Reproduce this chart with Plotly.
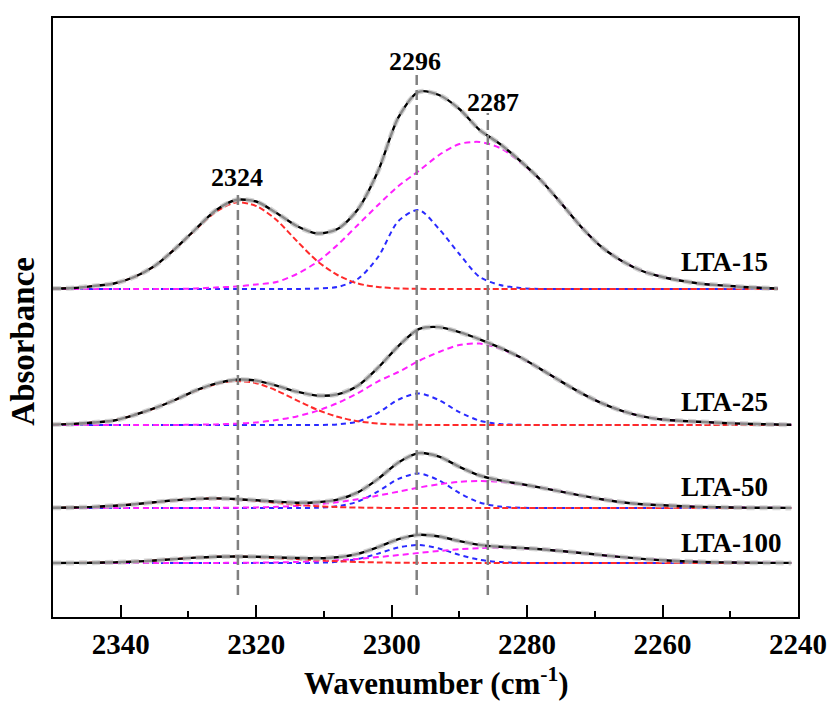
import plotly.graph_objects as go

# ---------------- data ----------------
WAVENUMBER = [2350, 2347, 2344, 2341, 2338, 2335, 2332, 2329, 2326, 2323, 2320, 2317, 2314,
              2311, 2308, 2305, 2302, 2299, 2296, 2293, 2290, 2287, 2284, 2281, 2278, 2275,
              2272, 2269, 2266, 2263, 2260, 2257, 2254, 2251, 2248, 2245, 2242]

SAMPLES = ["LTA-15", "LTA-25", "LTA-50", "LTA-100"]
SPECTRUM_END = [2243, 2241, 2241, 2241]          # last recorded wavenumber of each spectrum
OFFSETS = [328, 192, 109, 54]                    # vertical stacking offsets (a.u.)

# fitted components (a.u., above each spectrum's baseline)
RED_2324 = [
    [0.5, 1, 3, 5.5, 12, 23, 40, 59, 77, 86.5, 83, 69, 48, 28, 14, 5.5, 2, 0.6, 0.2] + [0] * 18,
    [0.4, 1.1, 2.5, 4.5, 10, 16.8, 25, 34, 40.8, 44, 41.8, 34.5, 24.7, 15.3, 8.2, 3.8, 1.5, 0.5, 0.2] + [0] * 18,
    [0.2, 0.5, 1.1, 2.2, 3.8, 5.8, 7.7, 9.1, 9.5, 8.7, 7.1, 5.1, 3.2, 1.8, 0.9, 0.4, 0.15, 0.05] + [0] * 19,
    [0.03, 0.1, 0.28, 0.67, 1.4, 2.5, 3.9, 5.3, 6.2, 6.4, 5.9, 5, 3.9, 2.75, 1.8, 1.05, 0.57, 0.28, 0.13, 0.05, 0.02] + [0] * 16,
]
BLUE_2296 = [
    [0] * 13 + [0.5, 2, 10, 32, 68, 79, 60, 35, 12, 4, 1] + [0] * 13,
    [0] * 14 + [0.6, 3.5, 12.2, 25.4, 31.6, 24.9, 12.8, 4.3, 0.9, 0.2] + [0] * 13,
    [0] * 13 + [0.3, 1.7, 6.4, 16.6, 29.1, 34.5, 27.6, 15, 5.5, 1.4, 0.3] + [0] * 13,
    [0] * 13 + [0.2, 1.2, 4, 9.4, 15.6, 18, 14.5, 8.1, 3.2, 0.9, 0.2] + [0] * 13,
]
MAGENTA_2287 = [
    [0] * 7 + [0.5, 1.5, 2.5, 4.5, 7, 15, 27, 44, 64, 84, 103, 118, 134, 145, 147, 141, 127, 109,
               86, 62, 42, 28, 18, 12, 8, 5, 3.5, 2, 1, 0.5],
    [0] * 7 + [0.3, 0.6, 1.3, 2.6, 4.9, 8.6, 14.1, 21.9, 31.9, 43.6, 53, 64, 73, 80, 81.4, 76.4,
               67.5, 55.9, 43.6, 31.9, 21.9, 14.1, 8.6, 5.5, 4, 3, 2, 1.3, 0.7, 0.3],
    [0] * 8 + [0.15, 0.3, 0.6, 1.2, 2.1, 3.7, 5.8, 8.8, 12.4, 16.4, 20.4, 23.8, 26.2, 27, 26.2,
               23.8, 20.4, 16.4, 12.4, 8.8, 5.8, 3.7, 2.8, 1.8, 1.1, 0.7, 0.4, 0.2, 0.1],
    [0] * 7 + [0.04, 0.1, 0.17, 0.33, 0.6, 1.07, 1.8, 2.8, 4.1, 5.9, 7.9, 10, 12, 13.8, 14.9, 15.3,
               14.9, 13.8, 12, 10, 7.9, 5.9, 4.1, 2.8, 1.8, 1.07, 0.6, 0.33, 0.17, 0.1],
]

PEAK_POSITIONS = [2322.7, 2296.3, 2285.8]
PEAK_LABELS = ["2324", "2296", "2287"]
X_TICKS = [2340, 2320, 2300, 2280, 2260, 2240]

# ---------------- figure ----------------
FONT = "Liberation Serif"
fig = go.Figure()

# drawing order bottom -> top: blue, magenta, red
comp_styles = [("#2a2aff", BLUE_2296, "5px,4px"), ("#ff20ff", MAGENTA_2287, "6px,4px"),
               ("#ff2a2a", RED_2324, "6px,3px")]

for i, name in enumerate(SAMPLES):
    x = WAVENUMBER[:-1] + [SPECTRUM_END[i]]
    off = OFFSETS[i]
    for color, comp, dash in comp_styles:
        fig.add_trace(go.Scatter(
            x=x, y=[off + v for v in comp[i]], mode="lines",
            line=dict(color=color, width=2, dash=dash, shape="spline", smoothing=0.8),
            hoverinfo="skip", showlegend=False))
    total = [off + r + b + m for r, b, m in zip(RED_2324[i], BLUE_2296[i], MAGENTA_2287[i])]
    # measured spectrum
    fig.add_trace(go.Scatter(
        x=x, y=total, mode="lines", name=name,
        line=dict(color="black", width=2.4, shape="spline", smoothing=0.8),
        showlegend=False))
    # cumulative fit
    fig.add_trace(go.Scatter(
        x=x, y=total, mode="lines",
        line=dict(color="rgba(195,195,195,0.7)", width=5, dash="8px,5px", shape="spline", smoothing=0.8),
        hoverinfo="skip", showlegend=False))

# vertical marker lines and their labels
vline_tops = [427, 542, 504]
label_y = [440, 556, 515]
label_x = [2322.8, 2296.6, 2285.0]
for k, wn in enumerate(PEAK_POSITIONS):
    fig.add_shape(type="line", xref="x", yref="y", x0=wn, x1=wn, y0=22, y1=vline_tops[k],
                  line=dict(color="#808080", width=2.5, dash="10px,5px"), layer="above")
    fig.add_annotation(x=label_x[k], y=label_y[k], text="<b>%s</b>" % PEAK_LABELS[k],
                       showarrow=False, font=dict(family=FONT, size=26, color="black"))

sample_label_y = [355, 215, 130, 74]
for i, name in enumerate(SAMPLES):
    fig.add_annotation(x=2257.6, y=sample_label_y[i], text="<b>%s</b>" % name, xanchor="left",
                       showarrow=False, font=dict(family=FONT, size=27, color="black"))

# axis titles
fig.add_annotation(xref="paper", yref="paper", x=0.515, y=-0.108, xanchor="center", yanchor="middle",
                   text="<b>Wavenumber (cm<sup>-1</sup>)</b>", showarrow=False,
                   font=dict(family=FONT, size=31, color="black"))
fig.add_annotation(xref="paper", yref="paper", x=-0.04, y=0.46, xanchor="center", yanchor="middle",
                   text="<b>Absorbance</b>", textangle=-90, showarrow=False,
                   font=dict(family=FONT, size=33, color="black"))

fig.update_layout(
    width=833, height=702,
    margin=dict(l=53, r=35, t=18, b=85, autoexpand=False),
    paper_bgcolor="white", plot_bgcolor="white",
    font=dict(family=FONT, color="black"),
    xaxis=dict(
        range=[2350, 2240], tickmode="array", tickvals=X_TICKS,
        ticktext=["<b>%d</b>" % t for t in X_TICKS],
        tickfont=dict(family=FONT, size=29, color="black"),
        ticks="inside", ticklen=12, tickwidth=2, tickcolor="black",
        minor=dict(ticks="inside", ticklen=6, tickwidth=2, dtick=10, tick0=2240, tickcolor="black"),
        showline=True, linewidth=2, linecolor="black", mirror=True,
        showgrid=False, zeroline=False, ticklabelstandoff=0, automargin=False,
    ),
    yaxis=dict(
        range=[0, 599], showticklabels=False, ticks="",
        showline=True, linewidth=2, linecolor="black", mirror=True,
        showgrid=False, zeroline=False, automargin=False,
    ),
)

fig.write_html("out.html")
